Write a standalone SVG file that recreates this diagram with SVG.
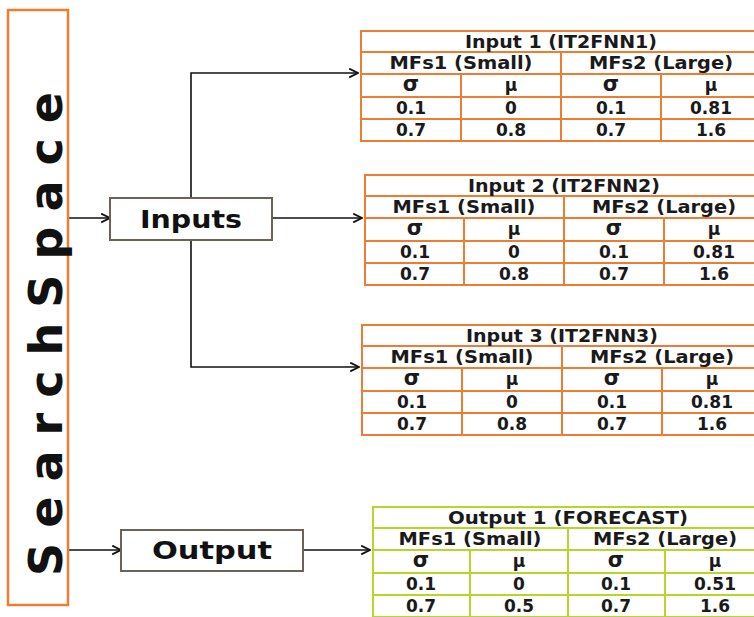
<svg xmlns="http://www.w3.org/2000/svg" width="754" height="617" viewBox="0 0 754 617">
  <defs>
    <marker id="arrow" viewBox="0 0 10 10" refX="9" refY="5" markerWidth="11" markerHeight="11" markerUnits="userSpaceOnUse" orient="auto">
      <path d="M1,1 L9,5 L1,9" fill="none" stroke="#111" stroke-width="1.6"/>
    </marker>
    <style>
      .tbl-o { fill: #fff; stroke: #ED7D31; stroke-width: 2; }
      .ln-o { stroke: #ED7D31; stroke-width: 2; }
      .tbl-g { fill: #fff; stroke: #B8D62A; stroke-width: 2; }
      .ln-g { stroke: #B8D62A; stroke-width: 2; }
      .t { font-family: "DejaVu Sans", "Liberation Sans", sans-serif; font-weight: bold; font-size: 17px; fill: #1a1a1a; text-anchor: middle; }
      .sg { font-size: 21px; }
      .box { fill: #fff; stroke: #6b6358; stroke-width: 2; }
      .lbl { font-family: "DejaVu Sans", "Liberation Sans", sans-serif; font-weight: bold; font-size: 24px; fill: #111; text-anchor: middle; }
      .conn { fill: none; stroke: #111; stroke-width: 1.6; }
    </style>
  </defs>

  <rect width="754" height="617" fill="#fff"/>

  <!-- connectors -->
  <g id="connectors">
    <line class="conn" x1="68" y1="218" x2="110" y2="218" marker-end="url(#arrow)"/>
    <line class="conn" x1="68" y1="550" x2="121" y2="550" marker-end="url(#arrow)"/>
    <polyline class="conn" points="191,198 191,73 358,73" marker-end="url(#arrow)"/>
    <line class="conn" x1="272" y1="218" x2="362" y2="218" marker-end="url(#arrow)"/>
    <polyline class="conn" points="191,240 191,367 359,367" marker-end="url(#arrow)"/>
    <line class="conn" x1="303" y1="550" x2="370" y2="550" marker-end="url(#arrow)"/>
  </g>

  <!-- search space column -->
  <g id="search-space">
    <rect x="8" y="10" width="60" height="595" fill="#fff" stroke="#ED7D31" stroke-width="2.5"/>
    <text transform="translate(62,334) rotate(-90)" x="0" y="0" text-anchor="middle" textLength="484" lengthAdjust="spacing" font-family="DejaVu Sans, Liberation Sans, sans-serif" font-weight="bold" font-size="46" fill="#111">SearchSpace</text>
  </g>

  <!-- inputs node -->
  <g id="inputs">
    <rect class="box" x="110" y="198" width="162" height="42"/>
    <text class="lbl" x="191" y="228" textLength="102" lengthAdjust="spacingAndGlyphs">Inputs</text>
  </g>

  <!-- output node -->
  <g id="output">
    <rect class="box" x="121" y="530" width="182" height="41"/>
    <text class="lbl" x="212" y="559" textLength="120" lengthAdjust="spacingAndGlyphs">Output</text>
  </g>

  <!-- input 1 table -->
  <g id="input1" transform="translate(361,31)">
    <rect class="tbl-o" x="0" y="0" width="400" height="110"/>
    <line class="ln-o" x1="0" y1="21" x2="400" y2="21"/>
    <line class="ln-o" x1="0" y1="43" x2="400" y2="43"/>
    <line class="ln-o" x1="0" y1="66" x2="400" y2="66"/>
    <line class="ln-o" x1="0" y1="88" x2="400" y2="88"/>
    <line class="ln-o" x1="200" y1="21" x2="200" y2="110"/>
    <line class="ln-o" x1="100" y1="43" x2="100" y2="110"/>
    <line class="ln-o" x1="300" y1="43" x2="300" y2="110"/>
    <text class="t" x="200" y="16.5" textLength="192" lengthAdjust="spacingAndGlyphs">Input 1 (IT2FNN1)</text>
    <text class="t" x="100" y="38" textLength="143" lengthAdjust="spacingAndGlyphs">MFs1 (Small)</text>
    <text class="t" x="300" y="38" textLength="144" lengthAdjust="spacingAndGlyphs">MFs2 (Large)</text>
    <text class="t sg" x="50" y="60">σ</text>
    <text class="t" x="150" y="60">μ</text>
    <text class="t sg" x="250" y="60">σ</text>
    <text class="t" x="350" y="60">μ</text>
    <text class="t" x="50" y="83">0.1</text>
    <text class="t" x="150" y="83">0</text>
    <text class="t" x="250" y="83">0.1</text>
    <text class="t" x="350" y="83">0.81</text>
    <text class="t" x="50" y="105">0.7</text>
    <text class="t" x="150" y="105">0.8</text>
    <text class="t" x="250" y="105">0.7</text>
    <text class="t" x="350" y="105">1.6</text>
  </g>

  <!-- input 2 table -->
  <g id="input2" transform="translate(365,175)">
    <rect class="tbl-o" x="0" y="0" width="400" height="110"/>
    <line class="ln-o" x1="0" y1="21" x2="400" y2="21"/>
    <line class="ln-o" x1="0" y1="43" x2="400" y2="43"/>
    <line class="ln-o" x1="0" y1="66" x2="400" y2="66"/>
    <line class="ln-o" x1="0" y1="88" x2="400" y2="88"/>
    <line class="ln-o" x1="199" y1="21" x2="199" y2="110"/>
    <line class="ln-o" x1="99" y1="43" x2="99" y2="110"/>
    <line class="ln-o" x1="299" y1="43" x2="299" y2="110"/>
    <text class="t" x="199" y="16.5" textLength="192" lengthAdjust="spacingAndGlyphs">Input 2 (IT2FNN2)</text>
    <text class="t" x="99" y="38" textLength="143" lengthAdjust="spacingAndGlyphs">MFs1 (Small)</text>
    <text class="t" x="299" y="38" textLength="144" lengthAdjust="spacingAndGlyphs">MFs2 (Large)</text>
    <text class="t sg" x="50" y="60">σ</text>
    <text class="t" x="149" y="60">μ</text>
    <text class="t sg" x="249" y="60">σ</text>
    <text class="t" x="349" y="60">μ</text>
    <text class="t" x="50" y="83">0.1</text>
    <text class="t" x="149" y="83">0</text>
    <text class="t" x="249" y="83">0.1</text>
    <text class="t" x="349" y="83">0.81</text>
    <text class="t" x="50" y="105">0.7</text>
    <text class="t" x="149" y="105">0.8</text>
    <text class="t" x="249" y="105">0.7</text>
    <text class="t" x="349" y="105">1.6</text>
  </g>

  <!-- input 3 table -->
  <g id="input3" transform="translate(362,325)">
    <rect class="tbl-o" x="0" y="0" width="400" height="110"/>
    <line class="ln-o" x1="0" y1="21" x2="400" y2="21"/>
    <line class="ln-o" x1="0" y1="43" x2="400" y2="43"/>
    <line class="ln-o" x1="0" y1="66" x2="400" y2="66"/>
    <line class="ln-o" x1="0" y1="88" x2="400" y2="88"/>
    <line class="ln-o" x1="200" y1="21" x2="200" y2="110"/>
    <line class="ln-o" x1="100" y1="43" x2="100" y2="110"/>
    <line class="ln-o" x1="300" y1="43" x2="300" y2="110"/>
    <text class="t" x="200" y="16.5" textLength="192" lengthAdjust="spacingAndGlyphs">Input 3 (IT2FNN3)</text>
    <text class="t" x="100" y="38" textLength="143" lengthAdjust="spacingAndGlyphs">MFs1 (Small)</text>
    <text class="t" x="300" y="38" textLength="144" lengthAdjust="spacingAndGlyphs">MFs2 (Large)</text>
    <text class="t sg" x="50" y="60">σ</text>
    <text class="t" x="150" y="60">μ</text>
    <text class="t sg" x="250" y="60">σ</text>
    <text class="t" x="350" y="60">μ</text>
    <text class="t" x="50" y="83">0.1</text>
    <text class="t" x="150" y="83">0</text>
    <text class="t" x="250" y="83">0.1</text>
    <text class="t" x="350" y="83">0.81</text>
    <text class="t" x="50" y="105">0.7</text>
    <text class="t" x="150" y="105">0.8</text>
    <text class="t" x="250" y="105">0.7</text>
    <text class="t" x="350" y="105">1.6</text>
  </g>

  <!-- output table -->
  <g id="output1" transform="translate(373,507)">
    <rect class="tbl-g" x="0" y="0" width="392" height="110"/>
    <line class="ln-g" x1="0" y1="21" x2="392" y2="21"/>
    <line class="ln-g" x1="0" y1="43" x2="392" y2="43"/>
    <line class="ln-g" x1="0" y1="66" x2="392" y2="66"/>
    <line class="ln-g" x1="0" y1="88" x2="392" y2="88"/>
    <line class="ln-g" x1="195" y1="21" x2="195" y2="110"/>
    <line class="ln-g" x1="97" y1="43" x2="97" y2="110"/>
    <line class="ln-g" x1="292" y1="43" x2="292" y2="110"/>
    <text class="t" x="195" y="16.5" textLength="240" lengthAdjust="spacingAndGlyphs">Output 1 (FORECAST)</text>
    <text class="t" x="97" y="38" textLength="143" lengthAdjust="spacingAndGlyphs">MFs1 (Small)</text>
    <text class="t" x="292" y="38" textLength="144" lengthAdjust="spacingAndGlyphs">MFs2 (Large)</text>
    <text class="t sg" x="48" y="60">σ</text>
    <text class="t" x="146" y="60">μ</text>
    <text class="t sg" x="243" y="60">σ</text>
    <text class="t" x="342" y="60">μ</text>
    <text class="t" x="48" y="83">0.1</text>
    <text class="t" x="146" y="83">0</text>
    <text class="t" x="243" y="83">0.1</text>
    <text class="t" x="342" y="83">0.51</text>
    <text class="t" x="48" y="105">0.7</text>
    <text class="t" x="146" y="105">0.5</text>
    <text class="t" x="243" y="105">0.7</text>
    <text class="t" x="342" y="105">1.6</text>
  </g>
</svg>
